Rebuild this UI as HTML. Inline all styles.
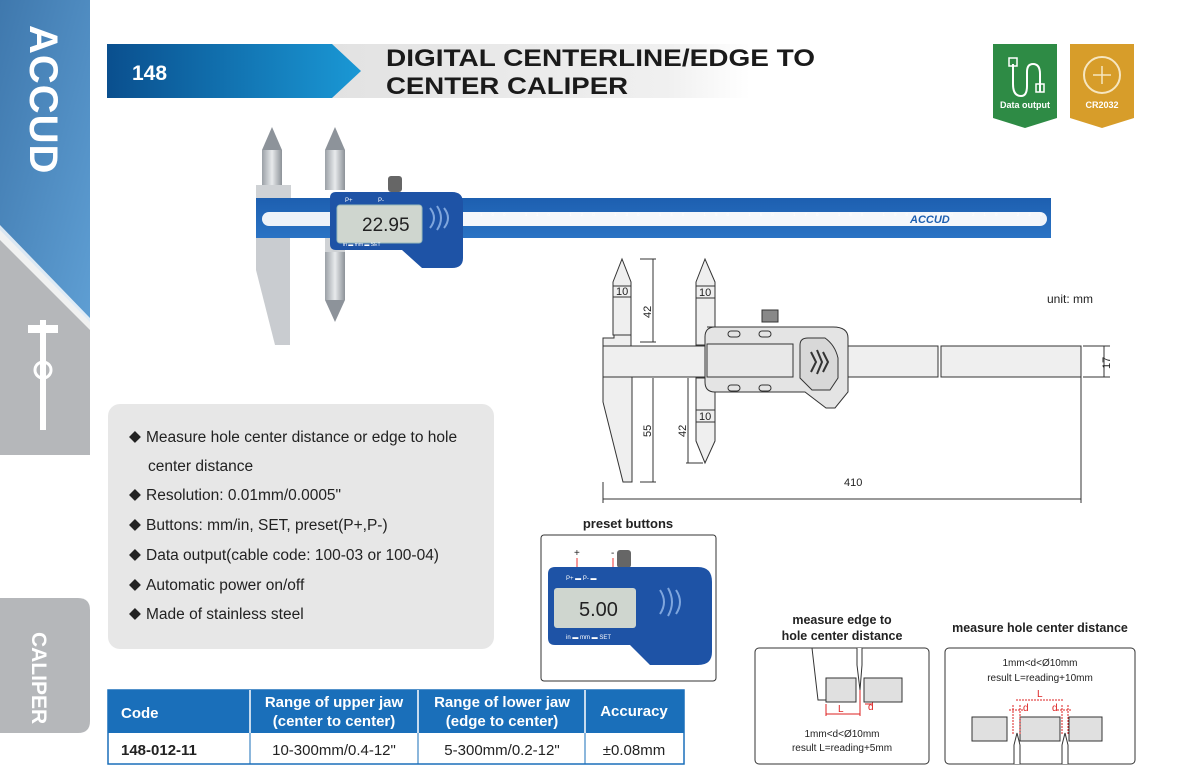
<!DOCTYPE html>
<html><head><meta charset="utf-8"><style>
html,body{margin:0;padding:0;background:#fff;}
svg{display:block;font-family:"Liberation Sans",Arial,sans-serif;}
</style></head><body>
<svg width="1183" height="778" viewBox="0 0 1183 778" xmlns="http://www.w3.org/2000/svg">
<defs>
<linearGradient id="side" x1="0" y1="0" x2="1" y2="1"><stop offset="0" stop-color="#3f78ad"/><stop offset="1" stop-color="#5f9fd4"/></linearGradient>
<linearGradient id="hdr" x1="0" x2="1"><stop offset="0" stop-color="#0a4f8e"/><stop offset="1" stop-color="#1a98d5"/></linearGradient>
<linearGradient id="hdrg" x1="0" x2="1"><stop offset="0" stop-color="#e2e2e2"/><stop offset="0.8" stop-color="#f0f0f0"/><stop offset="1" stop-color="#fff"/></linearGradient>
<linearGradient id="steel" x1="0" x2="1"><stop offset="0" stop-color="#9aa0a6"/><stop offset="0.5" stop-color="#e8eaec"/><stop offset="1" stop-color="#8c9298"/></linearGradient>
<linearGradient id="beam" x1="0" y1="0" x2="0" y2="1"><stop offset="0" stop-color="#1d5fb0"/><stop offset="1" stop-color="#2a73c4"/></linearGradient>
</defs>

<!-- sidebar -->
<rect x="0" y="0" width="90" height="330" fill="url(#side)"/>
<polygon points="0,230 90,322 90,455 0,455" fill="#b5b7ba"/>
<polygon points="0,225 0,240 90,330 90,318" fill="#fff" opacity="0.8"/>
<text transform="translate(30,25) rotate(90)" font-size="40" font-weight="bold" fill="#fff" letter-spacing="1">ACCUD</text>
<rect x="28" y="325" width="30" height="8" fill="#fff"/><rect x="40" y="320" width="6" height="110" fill="#fff"/><circle cx="43" cy="370" r="8" fill="none" stroke="#fff" stroke-width="3"/>
<path d="M0,598 H78 Q90,598 90,610 V721 Q90,733 78,733 H0 Z" fill="#b5b7ba"/>
<text transform="translate(32,632) rotate(90)" font-size="21" font-weight="bold" fill="#fff">CALIPER</text>

<!-- header -->
<rect x="330" y="44" width="420" height="54" fill="url(#hdrg)"/>
<polygon points="107,44 332,44 361,71 332,98 107,98" fill="url(#hdr)"/>
<text x="132" y="80" font-size="21" font-weight="bold" fill="#fff">148</text>
<text x="386" y="66" font-size="24" font-weight="bold" fill="#1a1a1a" textLength="429" lengthAdjust="spacingAndGlyphs">DIGITAL CENTERLINE/EDGE TO</text>
<text x="386" y="94" font-size="24" font-weight="bold" fill="#1a1a1a" textLength="242" lengthAdjust="spacingAndGlyphs">CENTER CALIPER</text>

<!-- badges -->
<polygon points="993,44 1057,44 1057,118 1025,128 993,118" fill="#2e8b45"/>
<path d="M1013,64 v20 q0,12 8,12 q6,0 6,-10 v-14 q0,-8 6,-8 q7,0 7,10 v18" fill="none" stroke="#fff" stroke-width="2"/>
<rect x="1009" y="58" width="8" height="8" fill="none" stroke="#fff" stroke-width="1.5"/>
<rect x="1036" y="84" width="8" height="8" fill="none" stroke="#fff" stroke-width="1.5"/>
<text x="1025" y="108" font-size="9" font-weight="bold" fill="#fff" text-anchor="middle">Data output</text>
<polygon points="1070,44 1134,44 1134,118 1102,128 1070,118" fill="#d79d2a"/>
<circle cx="1102" cy="75" r="18" fill="none" stroke="#f6e6c0" stroke-width="2"/>
<path d="M1102,66 v18 M1093,75 h18" stroke="#f6e6c0" stroke-width="1.5"/>
<text x="1102" y="108" font-size="9" font-weight="bold" fill="#fff" text-anchor="middle">CR2032</text>

<!-- caliper photo -->
<g>
<polygon points="262,150 272,127 282,150" fill="#8d939a"/><rect x="262" y="150" width="20" height="35" fill="url(#steel)"/>
<polygon points="325,150 335,127 345,150" fill="#8d939a"/><rect x="325" y="150" width="20" height="40" fill="url(#steel)"/>
<rect x="256" y="185" width="35" height="15" fill="#cfd2d5"/>
<polygon points="256,236 290,236 290,345 275,345 256,270" fill="#c9ccd0"/>
<rect x="256" y="198" width="795" height="40" fill="url(#beam)"/>
<rect x="262" y="212" width="785" height="14" rx="7" fill="#eef3f9"/>
<rect x="440" y="212" width="600" height="14" fill="#f4f7fb"/>
<text x="910" y="223" font-size="11" font-weight="bold" font-style="italic" fill="#1d5fb0">ACCUD</text>
<text x="480" y="216" font-size="4.5" fill="#fff" letter-spacing="9">100 110 120 130 140 150 160 170 180 190 200 210 220 230 240 250 260 270 280 290 300</text>
<rect x="325" y="238" width="20" height="15" fill="#cfd2d5"/>
<rect x="325" y="252" width="20" height="48" fill="url(#steel)"/><polygon points="325,300 335,322 345,300" fill="#8d939a"/>
<path d="M332,192 H452 Q463,192 463,203 V258 Q463,268 452,268 H422 L402,250 H336 Q330,250 330,244 V198 Q330,192 336,192 Z" fill="#1e53a6"/>
<rect x="337" y="205" width="85" height="38" rx="3" fill="#cfd6cf" stroke="#9bb" stroke-width="1"/>
<text x="362" y="231" font-size="19" fill="#222">22.95</text>
<rect x="388" y="176" width="14" height="16" rx="3" fill="#666"/>
<text x="345" y="202" font-size="6" fill="#fff">P+</text><text x="378" y="202" font-size="6" fill="#fff">P-</text>
<text x="343" y="246" font-size="5" fill="#fff">in ▬ mm     ▬ SET</text>
<path d="M430,208 q8,10 0,20 M437,206 q8,12 0,24 M444,208 q8,10 0,20" stroke="#7fa6dd" stroke-width="2" fill="none"/>
</g>

<!-- features box -->
<rect x="108" y="404" width="386" height="245" rx="12" fill="#e7e7e7"/>
<g font-size="15.5" fill="#222">
<text x="129" y="441">◆</text><text x="146" y="442">Measure hole center distance or edge to hole</text>
<text x="148" y="471">center distance</text>
<text x="129" y="499">◆</text><text x="146" y="500">Resolution: 0.01mm/0.0005"</text>
<text x="129" y="529">◆</text><text x="146" y="530">Buttons: mm/in, SET, preset(P+,P-)</text>
<text x="129" y="559">◆</text><text x="146" y="560">Data output(cable code: 100-03 or 100-04)</text>
<text x="129" y="589">◆</text><text x="146" y="590">Automatic power on/off</text>
<text x="129" y="618">◆</text><text x="146" y="619">Made of stainless steel</text>
</g>

<!-- table -->
<rect x="108" y="690" width="576" height="74" fill="#fff" stroke="#1a6fba" stroke-width="1.5"/>
<rect x="108" y="690" width="576" height="43" fill="#1a6fba"/>
<g stroke="#fff" stroke-width="1.5"><line x1="250" y1="690" x2="250" y2="733"/><line x1="418" y1="690" x2="418" y2="733"/><line x1="585" y1="690" x2="585" y2="733"/></g>
<g stroke="#1a6fba" stroke-width="1"><line x1="250" y1="733" x2="250" y2="764"/><line x1="418" y1="733" x2="418" y2="764"/><line x1="585" y1="733" x2="585" y2="764"/></g>
<g font-size="15" font-weight="bold" fill="#fff">
<text x="121" y="718">Code</text>
<text x="334" y="707" text-anchor="middle">Range of upper jaw</text><text x="334" y="726" text-anchor="middle">(center to center)</text>
<text x="502" y="707" text-anchor="middle">Range of lower jaw</text><text x="502" y="726" text-anchor="middle">(edge to center)</text>
<text x="634" y="716" text-anchor="middle">Accuracy</text>
</g>
<g font-size="15" fill="#222">
<text x="121" y="755" font-weight="bold">148-012-11</text>
<text x="334" y="755" text-anchor="middle">10-300mm/0.4-12"</text>
<text x="502" y="755" text-anchor="middle">5-300mm/0.2-12"</text>
<text x="634" y="755" text-anchor="middle">±0.08mm</text>
</g>

<!-- preset buttons -->
<text x="628" y="528" font-size="13" font-weight="bold" fill="#222" text-anchor="middle">preset buttons</text>
<rect x="541" y="535" width="175" height="146" rx="3" fill="#fff" stroke="#333" stroke-width="1"/>
<text x="574" y="556" font-size="10" fill="#222">+</text><text x="611" y="556" font-size="10" fill="#222">-</text>
<line x1="577" y1="558" x2="577" y2="578" stroke="#e33" stroke-width="1"/><line x1="613" y1="558" x2="613" y2="578" stroke="#e33" stroke-width="1"/>
<rect x="617" y="550" width="14" height="18" rx="3" fill="#666"/>
<path d="M555,567 H698 Q712,567 712,582 V652 Q712,665 698,665 H650 L630,645 H555 Q548,645 548,638 V574 Q548,567 555,567 Z" fill="#1e53a6"/>
<rect x="554" y="588" width="82" height="40" rx="3" fill="#cfd6cf"/>
<text x="579" y="616" font-size="20" fill="#222">5.00</text>
<text x="566" y="580" font-size="6" fill="#fff">P+ ▬     P- ▬</text>
<text x="566" y="639" font-size="6" fill="#fff">in ▬ mm     ▬ SET</text>
<path d="M660,590 q8,12 0,24 M668,588 q8,14 0,28 M676,590 q8,12 0,24" stroke="#7fa6dd" stroke-width="2" fill="none"/>

<!-- technical drawing -->
<g stroke="#333" stroke-width="1" fill="#efefef">
<path d="M603,346 V338 H614 V335 H631 V346 Z"/>
<path d="M613,282 L622,259 L631,282 V335 H613 Z"/>
<rect x="613" y="286" width="18" height="11" fill="#efefef"/>
<rect x="603" y="346" width="335" height="31"/>
<rect x="941" y="346" width="140" height="31"/>
<path d="M603,377 V402 L623,482 H632 V377 Z"/>
<path d="M696,282 L705,259 L715,282 V345 H696 Z"/>
<rect x="696" y="286" width="19" height="12"/>
<path d="M696,378 H715 V441 L705,463 L696,441 Z"/>
<rect x="696" y="410" width="19" height="12"/>
<rect x="762" y="310" width="16" height="12" fill="#888"/>
<path d="M707,327 H833 Q848,327 848,338 V392 L835,408 H826 L805,392 H715 Q705,392 705,382 V337 Q705,327 715,327 Z" fill="#e4e4e4"/>
<rect x="707" y="344" width="86" height="33" fill="#e8e8e8"/>
<path d="M800,345 Q800,338 808,338 H825 Q835,345 838,358 V378 L830,390 H812 L800,378 Z" fill="#d8d8d8"/>
</g>
<g fill="none" stroke="#333" stroke-width="1">
<rect x="728" y="331" width="12" height="6" rx="3"/><rect x="759" y="331" width="12" height="6" rx="3"/>
<rect x="728" y="385" width="12" height="6" rx="3"/><rect x="759" y="385" width="12" height="6" rx="3"/>
<path d="M811,352 l5,10 -5,10 M817,350 l5,12 -5,12 M823,352 l5,10 -5,10" stroke-width="2"/>
<path d="M653,259 V342 M640,259 H656 M640,342 H656"/>
<path d="M653,378 V482 M640,482 H656"/>
<path d="M688,378 V463 M686,463 H703"/>
<path d="M1104,346 V377 M1083,346 H1110 M1083,377 H1110"/>
<path d="M603,482 V503 M1081,377 V503 M603,499 H1081"/>
</g>
<g font-size="11" fill="#222">
<text x="616" y="295">10</text><text x="699" y="296">10</text><text x="699" y="420">10</text>
<text transform="translate(651,318) rotate(-90)">42</text>
<text transform="translate(651,437) rotate(-90)">55</text>
<text transform="translate(686,437) rotate(-90)">42</text>
<text transform="translate(1110,369) rotate(-90)">17</text>
<text x="844" y="486">410</text>
<text x="1047" y="303" font-size="12">unit: mm</text>
</g>

<!-- bottom diagrams -->
<g font-size="12.5" font-weight="bold" fill="#222" text-anchor="middle">
<text x="842" y="624">measure edge to</text><text x="842" y="640">hole center distance</text>
<text x="1040" y="632">measure hole center distance</text>
</g>
<rect x="755" y="648" width="174" height="116" rx="4" fill="#fff" stroke="#333"/>
<rect x="945" y="648" width="190" height="116" rx="4" fill="#fff" stroke="#333"/>
<g stroke="#333" fill="#e0e0e0">
<rect x="826" y="678" width="30" height="24"/><rect x="864" y="678" width="38" height="24"/>
<path d="M812,648 L818,700 L826,700" fill="none"/>
<path d="M857,648 V665 L860,690 L862,665 V648" fill="#fff"/>
<rect x="972" y="717" width="35" height="24"/><rect x="1020" y="717" width="40" height="24"/><rect x="1069" y="717" width="33" height="24"/>
<path d="M1014,764 V745 L1017,733 L1020,745 V764" fill="#fff"/>
<path d="M1062,764 V745 L1065,733 L1068,745 V764" fill="#fff"/>
</g>
<g stroke="#d22" fill="none" stroke-width="1">
<path d="M826,714 H860 M826,704 V716 M860,690 V716 M865,704 H872"/>
<path d="M1016,700 H1064 M1009,710 H1023 M1057,710 H1071 M1013,705 V735 M1020,705 V735 M1062,705 V735 M1068,705 V735" stroke-dasharray="2,1"/>
</g>
<g font-size="10" fill="#d22"><text x="838" y="712">L</text><text x="868" y="710">d</text><text x="1037" y="697">L</text><text x="1023" y="711">d</text><text x="1052" y="711">d</text></g>
<g font-size="10" fill="#222" text-anchor="middle">
<text x="842" y="737">1mm&lt;d&lt;Ø10mm</text><text x="842" y="751">result L=reading+5mm</text>
<text x="1040" y="666">1mm&lt;d&lt;Ø10mm</text><text x="1040" y="681">result L=reading+10mm</text>
</g>
</svg>
</body></html>
